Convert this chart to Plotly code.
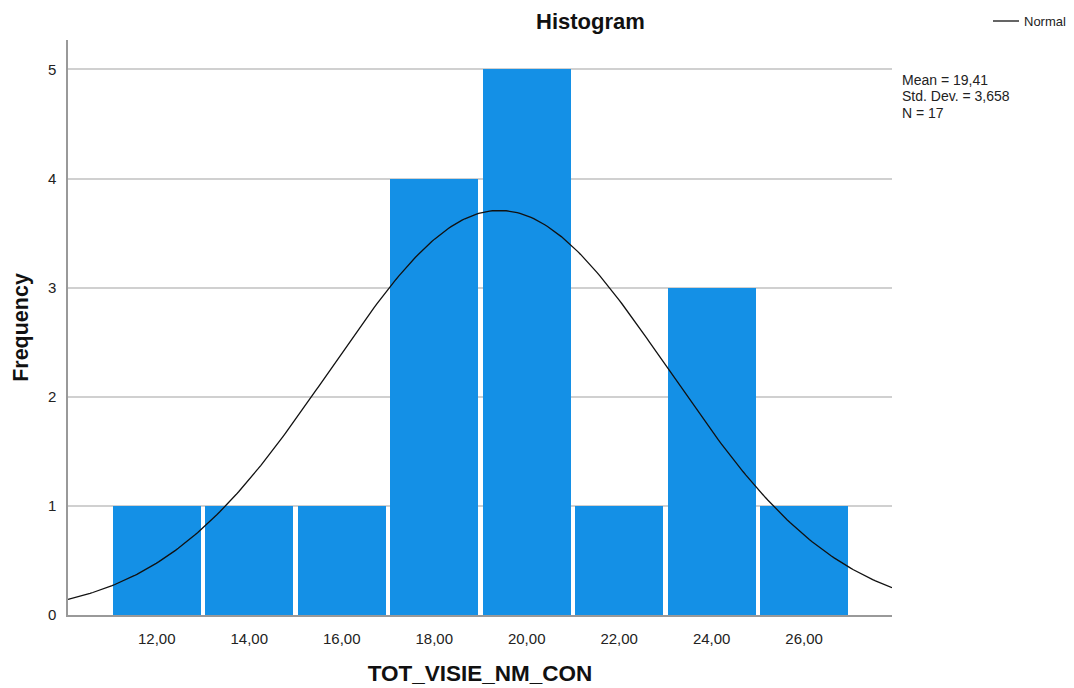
import numpy as np
import plotly.graph_objects as go

# Data
bin_centers = [12, 14, 16, 18, 20, 22, 24, 26]
frequencies = [1, 1, 1, 4, 5, 1, 3, 1]
bin_width = 2
mean_val = 19.41
std_val = 3.658
n_val = 17
x_tick_vals = [12, 14, 16, 18, 20, 22, 24, 26]
x_tick_text = ["12,00", "14,00", "16,00", "18,00", "20,00", "22,00", "24,00", "26,00"]
y_tick_vals = [0, 1, 2, 3, 4, 5]
stats_lines = ["Mean = 19,41", "Std. Dev. = 3,658", "N = 17"]

x_min, x_max = 10.08, 27.9
y_min, y_max = 0, 5.27

# Normal curve fitted from the stated mean / std / N
xs = np.linspace(x_min, x_max, 300)
ys = n_val * bin_width / (std_val * np.sqrt(2 * np.pi)) * np.exp(-0.5 * ((xs - mean_val) / std_val) ** 2)

FONT = "Liberation Sans, Arial, sans-serif"

fig = go.Figure()
fig.add_trace(go.Bar(
    x=bin_centers, y=frequencies, width=[1.9] * len(bin_centers),
    marker=dict(color="#1490E6", line=dict(width=0)),
    showlegend=False, hoverinfo="x+y",
))
fig.add_trace(go.Scatter(
    x=xs, y=ys, mode="lines", name="Normal", showlegend=False,
    line=dict(color="#111111", width=1.3),
))

L, R, T, B = 68, 182, 40, 73
W, H = 1074, 688
pw, ph = W - L - R, H - T - B

def px_x(px):
    return (px - L) / pw

def px_y(py):
    return (H - B - py) / ph

fig.update_layout(
    width=W, height=H,
    margin=dict(l=L, r=R, t=T, b=B, pad=0, autoexpand=False),
    paper_bgcolor="white", plot_bgcolor="white",
    font=dict(family=FONT, color="#222222"),
    bargap=0,
    showlegend=False,
    xaxis=dict(range=[x_min, x_max], tickvals=x_tick_vals, ticktext=x_tick_text,
               automargin=False,
               showgrid=False, zeroline=False, showline=True, linecolor="#999999", linewidth=1.5,
               ticks="", ticklabelstandoff=9, tickfont=dict(size=15, color="#222222"),
               title=dict(text="<b>TOT_VISIE_NM_CON</b>", font=dict(size=22.5, color="#111111"), standoff=19)),
    yaxis=dict(range=[y_min, y_max], tickvals=y_tick_vals, automargin=False,
               showgrid=True, gridcolor="#d0d0d0", gridwidth=1.5, zeroline=False,
               showline=True, linecolor="#999999", linewidth=1.5,
               ticks="", ticklabelstandoff=7, tickfont=dict(size=15, color="#222222"),
               title=dict(text="<b>Frequency</b>", font=dict(size=21.5, color="#111111"), standoff=13)),
)

ann = [
    dict(text="<b>Histogram</b>", x=px_x(590), y=px_y(22), xanchor="center",
         font=dict(size=22, color="#111111")),
    dict(text="Normal", x=px_x(1022), y=px_y(22), xanchor="left",
         font=dict(size=13, color="#222222")),
]
for txt, cy in zip(stats_lines, [79.5, 96, 112.5]):
    ann.append(dict(text=txt, x=px_x(901), y=px_y(cy), xanchor="left", borderpad=0,
                    font=dict(size=14, color="#222222")))
for a in ann:
    a["font"]["family"] = FONT
    fig.add_annotation(xref="paper", yref="paper", yanchor="middle", showarrow=False, **a)

# legend key for the "Normal" curve
fig.add_shape(type="line", xref="paper", yref="paper",
              x0=px_x(993), x1=px_x(1019), y0=px_y(21), y1=px_y(21),
              line=dict(color="#111111", width=1.3))

fig.write_html("out.html")
